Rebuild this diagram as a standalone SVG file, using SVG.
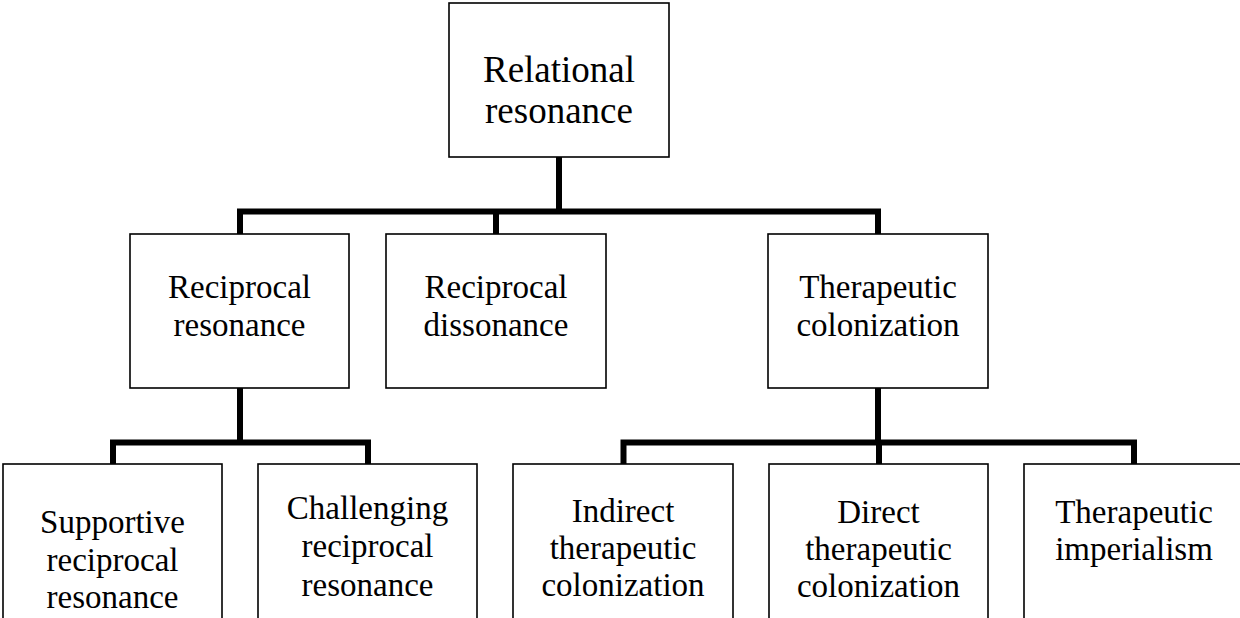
<svg xmlns="http://www.w3.org/2000/svg" width="1240" height="618" viewBox="0 0 1240 618">
  <style>
    .box { fill: #ffffff; stroke: #000000; stroke-width: 1.6; }
    .lbl { font-family: "Liberation Serif", "Times New Roman", serif; font-size: 33px; fill: #000000; text-anchor: middle; }
    .top { font-size: 37px; }
    .conn { fill: none; stroke: #000000; stroke-width: 6; stroke-linejoin: miter; stroke-linecap: butt; }
  </style>
  <rect width="1240" height="618" fill="#ffffff"/>
  <g id="connectors">
    <path class="conn" d="M559 157 V211.5"/>
    <path class="conn" d="M240 234 V211.5 H878 V234"/>
    <path class="conn" d="M496 211.5 V234"/>
    <path class="conn" d="M240 388 V442.5"/>
    <path class="conn" d="M113 464 V442.5 H368 V464"/>
    <path class="conn" d="M878 388 V442.5"/>
    <path class="conn" d="M623.5 464 V442.5 H1134 V464"/>
    <path class="conn" d="M879 442.5 V464"/>
  </g>
  <g id="node-relational-resonance">
    <rect class="box" x="449" y="3" width="220" height="154"/>
    <text class="lbl top" x="559" y="82">Relational</text>
    <text class="lbl top" x="559" y="123">resonance</text>
  </g>
  <g id="node-reciprocal-resonance">
    <rect class="box" x="130" y="234" width="219" height="154"/>
    <text class="lbl" x="239.5" y="298">Reciprocal</text>
    <text class="lbl" x="239.5" y="336">resonance</text>
  </g>
  <g id="node-reciprocal-dissonance">
    <rect class="box" x="386" y="234" width="220" height="154"/>
    <text class="lbl" x="496" y="298">Reciprocal</text>
    <text class="lbl" x="496" y="336">dissonance</text>
  </g>
  <g id="node-therapeutic-colonization">
    <rect class="box" x="768" y="234" width="220" height="154"/>
    <text class="lbl" x="878" y="298">Therapeutic</text>
    <text class="lbl" x="878" y="336">colonization</text>
  </g>
  <g id="node-supportive">
    <rect class="box" x="3" y="464" width="219" height="170"/>
    <text class="lbl" x="112.5" y="533">Supportive</text>
    <text class="lbl" x="112.5" y="571">reciprocal</text>
    <text class="lbl" x="112.5" y="608">resonance</text>
  </g>
  <g id="node-challenging">
    <rect class="box" x="258" y="464" width="219" height="170"/>
    <text class="lbl" x="367.5" y="519">Challenging</text>
    <text class="lbl" x="367.5" y="557">reciprocal</text>
    <text class="lbl" x="367.5" y="596">resonance</text>
  </g>
  <g id="node-indirect">
    <rect class="box" x="513" y="464" width="220" height="170"/>
    <text class="lbl" x="623" y="522">Indirect</text>
    <text class="lbl" x="623" y="559">therapeutic</text>
    <text class="lbl" x="623" y="596">colonization</text>
  </g>
  <g id="node-direct">
    <rect class="box" x="769" y="464" width="219" height="170"/>
    <text class="lbl" x="878.5" y="523">Direct</text>
    <text class="lbl" x="878.5" y="560">therapeutic</text>
    <text class="lbl" x="878.5" y="597">colonization</text>
  </g>
  <g id="node-imperialism">
    <rect class="box" x="1024" y="464" width="220" height="170"/>
    <text class="lbl" x="1134" y="523">Therapeutic</text>
    <text class="lbl" x="1134" y="560">imperialism</text>
  </g>
</svg>
